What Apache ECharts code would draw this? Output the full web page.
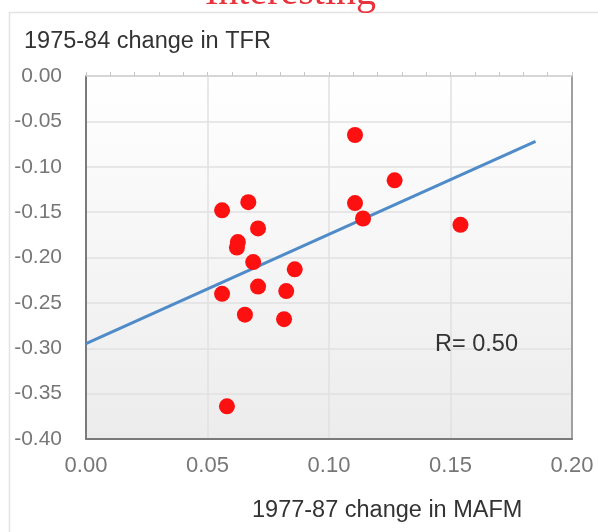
<!DOCTYPE html>
<html>
<head>
<meta charset="utf-8">
<script src="https://cdn.jsdelivr.net/npm/echarts@6/dist/echarts.min.js"></script>
<style>
  html, body { margin: 0; padding: 0; background: #fff; }
  #chart { width: 598px; height: 532px; }
</style>
</head>
<body>
<div id="chart"></div>
<script>
// 1977-87 change in MAFM vs 1975-84 change in TFR
const mafm = [0.1107, 0.1270, 0.1107, 0.1140, 0.1541, 0.0560, 0.0668, 0.0708,
  0.0625, 0.0621, 0.0688, 0.0859, 0.0560, 0.0708, 0.0824, 0.0654, 0.0815, 0.0580]
const tfr = [-0.065, -0.115, -0.140, -0.157, -0.164, -0.148, -0.139, -0.168,
  -0.183, -0.189, -0.205, -0.213, -0.240, -0.232, -0.237, -0.263, -0.268, -0.364]

// fitted line endpoints
const trendX = [0, 0.185]
const trendY = [-0.295, -0.072]

const xTicks = [0, 0.05, 0.10, 0.15, 0.20]
const yTicks = [0, -0.05, -0.10, -0.15, -0.20, -0.25, -0.30, -0.35, -0.40]

const rLabel = 'R= 0.50'
const xTitle = '1977-87 change in MAFM'
const yTitle = '1975-84 change in TFR'
const pageTitle = 'Interesting'

const font = '"Liberation Sans", Arial, sans-serif'

const chart = echarts.init(document.getElementById('chart'))

const points = mafm.map((x, i) => [x, tfr[i]])
const trend = trendX.map((x, i) => [x, trendY[i]])

chart.setOption({
  backgroundColor: '#fff',
  animation: false,
  textStyle: { fontFamily: font },
  grid: {
    left: 86, right: 26, top: 76, bottom: 93,
    show: true,
    borderWidth: 0,
    backgroundColor: {
      type: 'linear', x: 0, y: 0, x2: 0, y2: 1,
      colorStops: [{ offset: 0, color: '#ffffff' }, { offset: 1, color: '#ececec' }]
    }
  },
  xAxis: [{
    type: 'value',
    min: xTicks[0], max: xTicks[xTicks.length - 1], interval: 0.05,
    axisLine: { show: true, onZero: false, lineStyle: { color: '#7a7a7a', width: 2 } },
    axisTick: { show: false },
    axisLabel: { color: '#777', fontSize: 22, margin: 16, formatter: v => v.toFixed(2) },
    splitLine: { show: true, lineStyle: { color: '#e0e0e0', width: 1.5 } }
  }, {
    type: 'value', position: 'top',
    min: xTicks[0], max: xTicks[xTicks.length - 1], interval: 0.05,
    axisLine: { show: true, onZero: false, lineStyle: { color: '#cfcfcf', width: 1.5 } },
    axisTick: { show: true, length: 4, lineStyle: { color: '#c8c8c8' } },
    minorTick: { show: true, splitNumber: 5, length: 4, lineStyle: { color: '#c8c8c8' } },
    axisLabel: { show: false },
    splitLine: { show: false }
  }],
  yAxis: [{
    type: 'value',
    min: yTicks[yTicks.length - 1], max: yTicks[0], interval: 0.05,
    axisLine: { show: true, onZero: false, lineStyle: { color: '#7a7a7a', width: 2 } },
    axisTick: { show: false },
    axisLabel: { color: '#777', fontSize: 21, margin: 24, formatter: v => v.toFixed(2) },
    splitLine: { show: true, lineStyle: { color: '#e0e0e0', width: 1.5 } }
  }, {
    type: 'value', position: 'right',
    min: yTicks[yTicks.length - 1], max: yTicks[0], interval: 0.05,
    axisLine: { show: true, onZero: false, lineStyle: { color: '#a0a0a0', width: 2 } },
    axisTick: { show: false },
    axisLabel: { show: false },
    splitLine: { show: false }
  }],
  graphic: [
    {
      type: 'rect', z: -1, silent: true,
      shape: { x: 9.5, y: 12.5, width: 620, height: 540 },
      style: { fill: 'none', stroke: '#e4e4e4', lineWidth: 1.5 }
    },
    {
      type: 'text', left: 24, top: 30, z: 10,
      style: { text: yTitle, fill: '#333', fontSize: 23.5, fontFamily: font }
    },
    {
      type: 'text', left: 252, top: 499, z: 10,
      style: { text: xTitle, fill: '#333', fontSize: 23.5, fontFamily: font }
    },
    {
      type: 'text', left: 435, top: 333, z: 10,
      style: { text: rLabel, fill: '#333', fontSize: 23.5, fontFamily: font }
    },
    {
      type: 'text', x: 205, y: -27, z: 10,
      style: { text: pageTitle, fill: '#e8323c', fontSize: 40, fontFamily: '"Liberation Serif", "Times New Roman", serif' }
    }
  ],
  series: [{
    type: 'line',
    data: trend,
    symbol: 'none',
    lineStyle: { color: '#4f8bc9', width: 3 },
    z: 2
  }, {
    type: 'scatter',
    data: points,
    symbolSize: 16,
    itemStyle: { color: '#fc1010', opacity: 1 },
    z: 3
  }]
})
</script>
</body>
</html>
